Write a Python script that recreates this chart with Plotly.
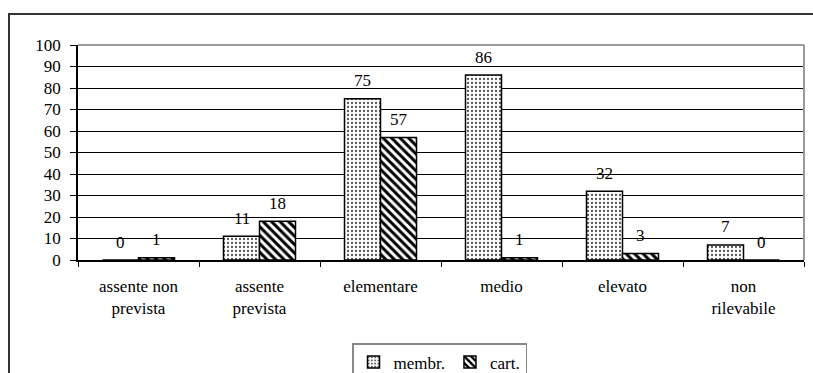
import plotly.graph_objects as go

categories = ["assente non<br>prevista", "assente<br>prevista", "elementare",
              "medio", "elevato", "non<br>rilevabile"]
membr = [0, 11, 75, 86, 32, 7]
cart = [1, 18, 57, 1, 3, 0]
series_names = ["membr.", "cart."]

W, H = 813, 373
L, R, T, B = 78, 9, 45, 113
plot_w, plot_h = W - L - R, H - T - B

BARGAP = 0.405
bar_w = (1 - BARGAP) / 2
FONT = "Liberation Serif"

fig = go.Figure()
fig.add_trace(go.Bar(
    x=categories, y=membr, name=series_names[0],
    marker=dict(color="white", line=dict(color="black", width=1.5),
                pattern=dict(shape=".", fgcolor="#555555", bgcolor="white",
                             fgopacity=1, size=4, solidity=0.25)),
))
fig.add_trace(go.Bar(
    x=categories, y=cart, name=series_names[1],
    marker=dict(color="white", line=dict(color="black", width=1.5),
                pattern=dict(shape="\\", fgcolor="black", bgcolor="white",
                             fgopacity=1, size=6, solidity=0.5)),
))

# value labels above each bar
for i, (a, b) in enumerate(zip(membr, cart)):
    for val, off in ((a, -bar_w / 2), (b, bar_w / 2)):
        fig.add_annotation(x=i + off, y=val, text=str(val), showarrow=False,
                           yanchor="middle", yshift=18,
                           font=dict(family=FONT, size=17, color="black"))

def px_x(px):
    return (px - L) / plot_w

def px_y(py):
    return (H - B - py) / plot_h

# outer chart frame (clipped at the right and bottom edges)
fig.add_shape(type="rect", xref="paper", yref="paper",
              x0=px_x(9), x1=px_x(830), y0=px_y(390), y1=px_y(14),
              line=dict(color="#333333", width=2), layer="below")
# plot area frame: grey top and right edges
fig.add_shape(type="line", xref="paper", yref="paper", x0=0, x1=1, y0=1, y1=1,
              line=dict(color="#999999", width=2))
fig.add_shape(type="line", xref="paper", yref="paper", x0=1, x1=1, y0=0, y1=1,
              line=dict(color="#999999", width=2))

fig.update_layout(
    width=W, height=H,
    margin=dict(l=L, r=R, t=T, b=B, autoexpand=False),
    paper_bgcolor="white", plot_bgcolor="white",
    barmode="group", bargap=BARGAP, bargroupgap=0,
    font=dict(family=FONT, size=17, color="black"),
    legend=dict(orientation="h", x=px_x(352), y=px_y(343),
                xanchor="left", yanchor="top",
                bordercolor="#888888", borderwidth=1.5,
                font=dict(family=FONT, size=17, color="black"),
                itemwidth=30, traceorder="normal"),
    xaxis=dict(type="category", tickson="boundaries", ticks="outside",
               ticklen=5, tickcolor="black", showline=True, linecolor="black",
               linewidth=1.5, showgrid=False, range=[-0.5, 5.5],
               ticklabelstandoff=10,
               tickfont=dict(family=FONT, size=17, color="black")),
    yaxis=dict(range=[0, 100], dtick=10, ticks="outside", ticklen=6,
               tickcolor="black", showline=True, linecolor="black",
               linewidth=1.5, showgrid=True, gridcolor="black", gridwidth=1,
               zeroline=False, ticklabelstandoff=6,
               tickfont=dict(family=FONT, size=17, color="black")),
)

fig.write_html("out.html")
